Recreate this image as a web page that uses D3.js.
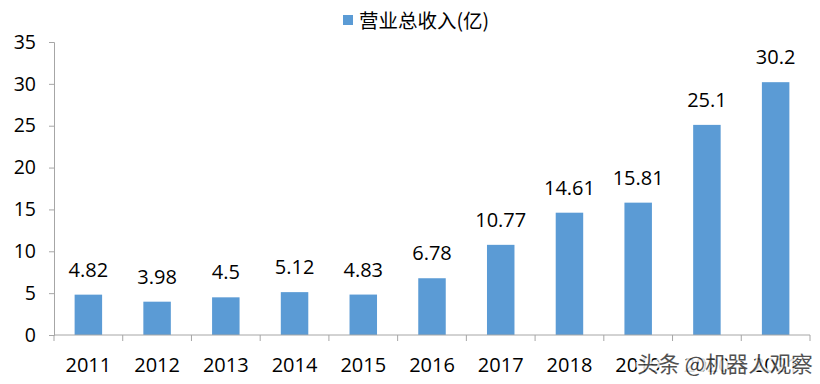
<!DOCTYPE html>
<html><head><meta charset="utf-8">
<script src="https://cdn.jsdelivr.net/npm/d3@7"></script>
<style>body{margin:0;background:#fff}svg{display:block}text{font-family:"Open Sans","Noto Sans CJK SC",sans-serif}</style>
</head><body><svg id="c" width="820" height="384"></svg>
<script>
const categories = ["2011","2012","2013","2014","2015","2016","2017","2018","2019","2020","2021"];
const revenue = [4.82,3.98,4.5,5.12,4.83,6.78,10.77,14.61,15.81,25.1,30.2];
const valueLabels = ["4.82","3.98","4.5","5.12","4.83","6.78","10.77","14.61","15.81","25.1","30.2"];
const yTicks = [0,5,10,15,20,25,30,35];
const seriesName = "营业总收入(亿)";
const watermark = "头条 @机器人观察";

const svg = d3.select("#c");
const x = d3.scaleBand().domain(categories).range([54, 810]).paddingInner(0.6).paddingOuter(0.3);
const xb = d3.scaleBand().domain(categories).range([54, 810]);
const y = d3.scaleLinear().domain([0, 35]).range([335, 42]);
const axisColor = "#a6a6a6";
const ff = '"Open Sans","Noto Sans CJK SC",sans-serif';

// y axis
const ya = svg.append("g").attr("transform","translate(54,0)")
  .call(d3.axisLeft(y).tickValues(yTicks).tickSize(5).tickPadding(13));
ya.select(".domain").attr("stroke", axisColor);
ya.selectAll(".tick line").attr("stroke", axisColor);
ya.selectAll(".tick text").attr("font-size", 19.5).attr("fill","#000").style("font-family",ff);

// bars
svg.append("g").selectAll("rect").data(revenue).join("rect")
  .attr("x",(d,i)=>x(categories[i])).attr("width",x.bandwidth())
  .attr("y",d=>y(d)).attr("height",d=>y(0)-y(d)).attr("fill","#5b9bd5");

// x axis
const xg = svg.append("g").attr("transform","translate(0,335)");
xg.append("line").attr("x1",54).attr("x2",810).attr("stroke",axisColor);
const bounds = categories.map(c=>xb(c)).concat([810]);
xg.selectAll("line.t").data(bounds).join("line").attr("class","t")
  .attr("x1",d=>d).attr("x2",d=>d).attr("y1",0).attr("y2",6).attr("stroke",axisColor);
xg.selectAll("text").data(categories).join("text")
  .attr("x",d=>xb(d)+xb.bandwidth()/2).attr("y",37).attr("text-anchor","middle")
  .attr("font-size",20).attr("fill","#000").text(d=>d);

// value labels
svg.append("g").selectAll("text").data(revenue).join("text")
  .attr("x",(d,i)=>x(categories[i])+x.bandwidth()/2).attr("y",d=>y(d)-18)
  .attr("text-anchor","middle").attr("font-size",20).attr("fill","#000")
  .text((d,i)=>valueLabels[i]);

// legend
const lg = svg.append("g");
lg.append("rect").attr("x",343).attr("y",15).attr("width",10).attr("height",10).attr("fill","#5b9bd5");
lg.append("text").attr("x",359).attr("y",28).attr("font-size",19.5).attr("fill","#000")
  .style("font-family",'"Noto Sans CJK SC",sans-serif').text(seriesName);

// watermark
svg.append("text").attr("x",637).attr("y",372).attr("font-size",21.5)
  .style("font-family",'"Noto Sans CJK SC",sans-serif')
  .attr("fill","#333").attr("stroke","#fff").attr("stroke-width",4).attr("paint-order","stroke")
  .attr("opacity",0.85).text(watermark);
</script></body></html>
